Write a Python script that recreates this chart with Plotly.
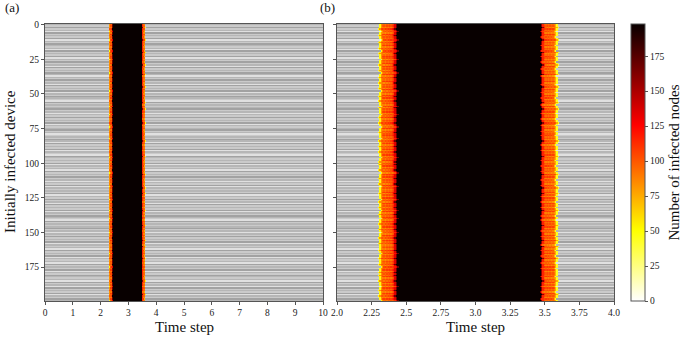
import numpy as np
import plotly.graph_objects as go

# ---------------- data ----------------
N_DEVICES = 200
DEVICES = list(range(N_DEVICES))
T_START, T_STEP, N_T = 2.25, 0.01, 146          # fine time grid 2.25 .. 3.70
TIMES = [round(T_START + T_STEP * i, 2) for i in range(N_T)]

# infected-node count right after onset (one value per 0.01 step)
RISE_PROFILE = [48, 82, 92, 96, 90, 98, 94, 100, 96, 102, 110, 135, 170]
# infected-node count while the infection dies out
FALL_PROFILE = [160, 116, 100, 94, 98, 92, 97, 91, 95, 88, 74, 44]
PEAK_COUNT = 198

# per-device onset / end shift (in 0.01 steps), streak level, background stripe shade
ONSET_SHIFT = ("11101211011210111012", "10111211101110121101", "11011101211101101112",
               "01111210111011211101", "11210111011101112110", "10111012111011101211",
               "11011121011101211011", "21110111012111011101", "11101211101110121110",
               "10111011121101110112")
END_SHIFT = ("11211011101211101110", "21101110121101112011", "11101211101110112101",
             "12110111011210111011", "01112110111011121101", "11011101211101110121",
             "11210111011101211101", "10111211101110112110", "21101110121101110111",
             "11011211101110121101")
STREAK = ("12031203121302130213", "20132021303120213021", "13021203120313021203",
          "02130213021320130212", "31202130213021302130", "21302120313021203120",
          "13020312031202130213", "20312130212031203120", "12031302130212031302",
          "21302130203120312031")
STRIPE = ("12021302120312012130", "21203120213021201312", "02130212031201230212",
          "10213120212031210213", "21201302120312301212", "03121302120213120312",
          "12031202130212031201", "23021210213120212031", "21302120312130212031",
          "20121302130212031201")

CBAR_TICKS = [0, 25, 50, 75, 100, 125, 150, 175]
XB_TICKS = [2.0, 2.25, 2.5, 2.75, 3.0, 3.25, 3.5, 3.75, 4.0]
XB_TICKTEXT = ["2.0", "2.25", "2.5", "2.75", "3.0", "3.25", "3.5", "3.75", "4.0"]
XA_TICKS = list(range(0, 11))
Y_TICKS = [0, 25, 50, 75, 100, 125, 150, 175]


def digits(groups):
    s = "".join(groups)
    vals = [int(c) for c in s]
    while len(vals) < N_DEVICES:
        vals += vals
    return vals[:N_DEVICES]


onset = digits(ONSET_SHIFT)
end = digits(END_SHIFT)
streak = digits(STREAK)
stripe = digits(STRIPE)

# ---------------- build matrices ----------------
z = np.full((N_DEVICES, N_T), np.nan)
for r in range(N_DEVICES):
    s = 5 + onset[r]
    f = 123 + end[r] - 1
    shift = 6 * (streak[r] - 1)
    for k, v in enumerate(RISE_PROFILE):
        vv = v + (shift if 1 < k < 11 else 0)
        z[r, s + k] = min(max(vv, 1), PEAK_COUNT)
    z[r, s + len(RISE_PROFILE):f] = PEAK_COUNT
    for k, v in enumerate(FALL_PROFILE):
        vv = v + (shift if 1 < k < 10 else 0)
        z[r, f + k] = min(max(vv, 1), PEAK_COUNT)

z_list = [[None if np.isnan(v) else float(v) for v in row] for row in z]
bg = [[stripe[r], stripe[r]] for r in range(N_DEVICES)]

hot_r = [[0.0, "rgb(255,255,255)"], [0.253968, "rgb(255,255,0)"],
         [0.634921, "rgb(255,0,0)"], [1.0, "rgb(8,0,0)"]]
gray_scale = [[0.0, "#a2a2a2"], [0.333, "#b6b6b6"], [0.667, "#cacaca"], [1.0, "#e0e0e0"]]

FONT = "Liberation Serif"
W, H = 685, 341
px = lambda x: x / W
py = lambda y: 1 - y / H

fig = go.Figure()
# background stripes
fig.add_trace(go.Heatmap(z=bg, x=[0, 10], y=DEVICES, colorscale=gray_scale, zmin=0, zmax=3,
                         showscale=False, hoverinfo="skip", xaxis="x", yaxis="y"))
fig.add_trace(go.Heatmap(z=bg, x=[2, 4], y=DEVICES, colorscale=gray_scale, zmin=0, zmax=3,
                         showscale=False, hoverinfo="skip", xaxis="x2", yaxis="y2"))
# infection
fig.add_trace(go.Heatmap(z=z_list, x=TIMES, y=DEVICES, coloraxis="coloraxis",
                         xaxis="x", yaxis="y"))
fig.add_trace(go.Heatmap(z=z_list, x=TIMES, y=DEVICES, coloraxis="coloraxis",
                         xaxis="x2", yaxis="y2"))

axis_common = dict(showline=True, mirror=True, linecolor="#555", linewidth=1,
                   ticks="outside", ticklen=3, tickcolor="#555", showgrid=False,
                   zeroline=False, automargin=False,
                   tickfont=dict(family=FONT, size=9.5, color="#222"))

fig.update_layout(
    width=W, height=H, margin=dict(l=0, r=0, t=0, b=0, autoexpand=False),
    paper_bgcolor="white", plot_bgcolor="white",
    font=dict(family=FONT, color="#111"),
    xaxis=dict(domain=[px(45), px(323)], range=[0, 10], tickvals=XA_TICKS, anchor="y",
               **axis_common),
    yaxis=dict(domain=[py(301), py(24)], range=[199.5, -0.5], tickvals=Y_TICKS, anchor="x",
               **axis_common),
    xaxis2=dict(domain=[px(337), px(614)], range=[2, 4], tickvals=XB_TICKS,
                ticktext=XB_TICKTEXT, anchor="y2", **axis_common),
    yaxis2=dict(domain=[py(301), py(24)], range=[199.5, -0.5], tickvals=Y_TICKS,
                showticklabels=False, anchor="x2", **axis_common),
    coloraxis=dict(
        cmin=0, cmax=198, colorscale=hot_r,
        colorbar=dict(
            x=px(631), xanchor="left", y=py(162.5), yanchor="middle",
            len=277 / H, lenmode="fraction", thickness=14, thicknessmode="pixels",
            outlinecolor="#555", outlinewidth=1, ticks="outside", ticklen=3,
            tickcolor="#555", tickvals=CBAR_TICKS,
            tickfont=dict(family=FONT, size=9.5, color="#222"),
            title=dict(text="Number of infected nodes", side="right",
                       font=dict(family=FONT, size=15, color="#111")),
            xpad=0, ypad=0,
        ),
    ),
    annotations=[
        dict(text="(a)", x=px(3), y=py(8), xref="paper", yref="paper", showarrow=False,
             xanchor="left", yanchor="middle", font=dict(family=FONT, size=13)),
        dict(text="(b)", x=px(318), y=py(8), xref="paper", yref="paper", showarrow=False,
             xanchor="left", yanchor="middle", font=dict(family=FONT, size=13)),
        dict(text="Time step", x=px(184), y=py(327), xref="paper", yref="paper",
             showarrow=False, xanchor="center", yanchor="middle",
             font=dict(family=FONT, size=15)),
        dict(text="Time step", x=px(475), y=py(327), xref="paper", yref="paper",
             showarrow=False, xanchor="center", yanchor="middle",
             font=dict(family=FONT, size=15)),
        dict(text="Initially infected device", x=px(10), y=py(162), xref="paper",
             yref="paper", showarrow=False, textangle=-90, xanchor="center",
             yanchor="middle", font=dict(family=FONT, size=15)),
    ],
)

fig.write_html("out.html", config={"displayModeBar": False})
with open("out.html", "r", encoding="utf-8") as fh:
    html = fh.read()
html = html.replace("<body>", '<body style="margin:0;padding:0;overflow:hidden">', 1)
html = html.replace("<head>", "<head><style>html,body{margin:0;padding:0;}</style>", 1)
with open("out.html", "w", encoding="utf-8") as fh:
    fh.write(html)
